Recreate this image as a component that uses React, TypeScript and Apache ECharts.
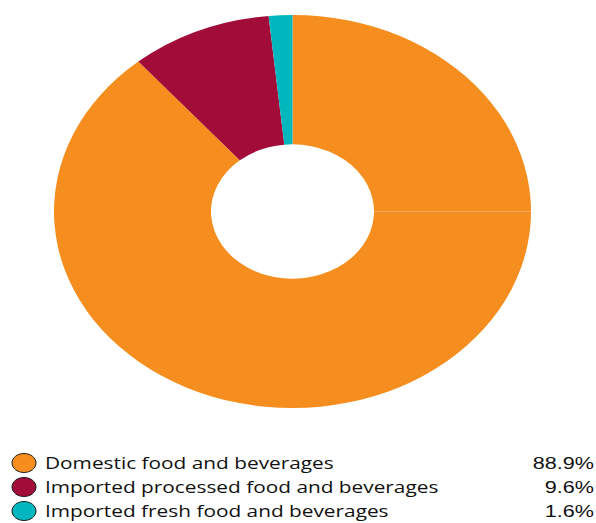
import React, { useEffect, useRef } from "react";
import * as echarts from "echarts";

const categories = [
  "Domestic food and beverages",
  "Imported processed food and beverages",
  "Imported fresh food and beverages",
];
const values = [88.9, 9.6, 1.6];
const percentLabels = ["88.9%", "9.6%", "1.6%"];
const colors = ["#F68E1F", "#A20C38", "#00B7BD"];

export default function App() {
  const ref = useRef<HTMLDivElement>(null);
  useEffect(() => {
    if (!ref.current) return;
    const chart = echarts.init(ref.current, null, { renderer: "svg" });
    const total = values.reduce((a, b) => a + b, 0);
    const starts: number[] = [];
    let acc = 0;
    values.forEach((v) => {
      starts.push(acc);
      acc += v;
    });
    const cx = 292.5;
    const cy = 211.5;
    const rx = 238.5;
    const ry = 196.5;
    const r0 = 81.5;

    const legendY = [462.5, 486.5, 510.5];
    const graphics: any[] = [];
    categories.forEach((name, i) => {
      graphics.push({
        type: "ellipse",
        shape: { cx: 24, cy: legendY[i] + 0.5, rx: 12, ry: 9.5 },
        style: { fill: colors[i], stroke: "#1a1a1a", lineWidth: 1 },
      });
      graphics.push({
        type: "text",
        x: 45,
        y: legendY[i],
        scaleX: 1.225,
        style: {
          text: name,
          font: '17px "Open Sans"',
          fill: "#111",
          textAlign: "left",
          textVerticalAlign: "middle",
        },
      });
      graphics.push({
        type: "text",
        x: 594,
        y: legendY[i],
        scaleX: 1.27,
        style: {
          text: percentLabels[i],
          font: '17px "Liberation Sans"',
          fill: "#111",
          textAlign: "right",
          textVerticalAlign: "middle",
        },
      });
    });

    chart.setOption({
      animation: false,
      backgroundColor: "#fff",
      series: [
        {
          type: "custom",
          coordinateSystem: "none",
          data: values.map((v, i) => ({ name: categories[i], value: v })),
          renderItem: (params: any) => {
            const i = params.dataIndex;
            const a0 = -Math.PI / 2 + (starts[i] / total) * Math.PI * 2;
            const a1 = -Math.PI / 2 + ((starts[i] + values[i]) / total) * Math.PI * 2;
            const children: any[] = [
              {
                type: "sector",
                shape: { cx: 0, cy: 0, r: rx, r0: r0, startAngle: a0, endAngle: a1, clockwise: true },
                style: { fill: colors[i] },
              },
            ];
            if (i === 0) {
              children.push({
                type: "line",
                shape: { x1: r0, y1: 0, x2: rx, y2: 0 },
                style: { stroke: "rgba(255,255,255,0.3)", lineWidth: 1 },
              });
            }
            return {
              type: "group",
              x: cx,
              y: cy,
              scaleY: ry / rx,
              children,
            };
          },
        },
      ],
      graphic: graphics,
    });
    return () => chart.dispose();
  }, []);
  return (
    <div
      ref={ref}
      style={{ position: "fixed", left: 0, top: 0, width: 596, height: 523 }}
    />
  );
}
